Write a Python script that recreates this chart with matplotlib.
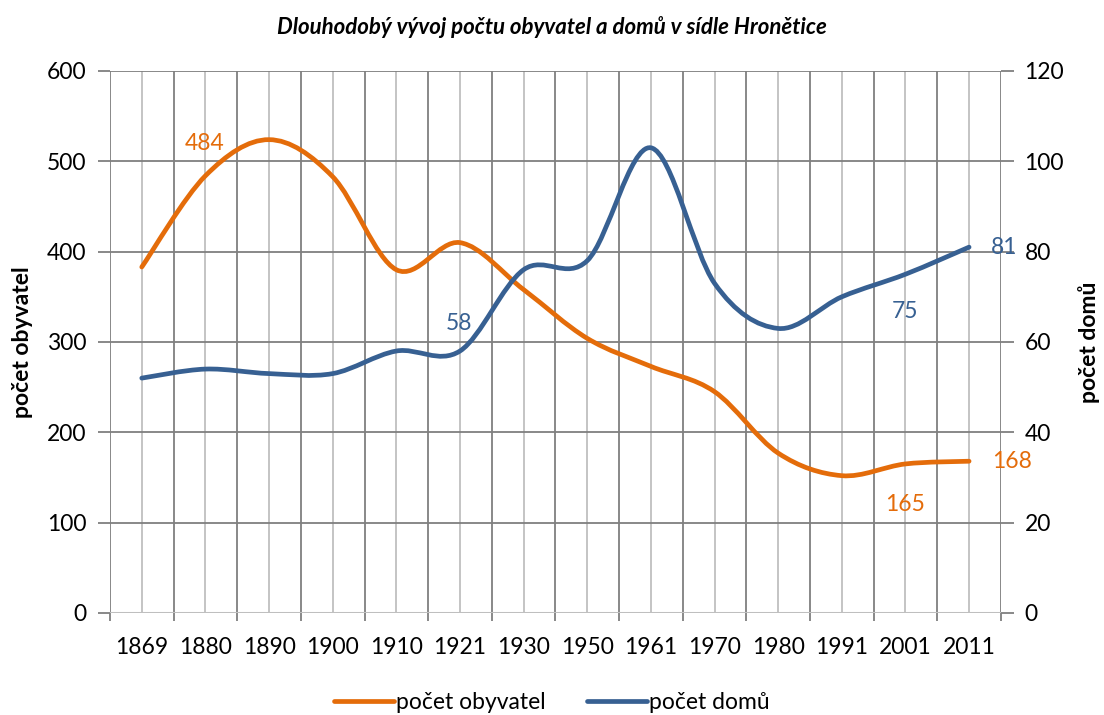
import numpy as np
import matplotlib.pyplot as plt
from matplotlib.path import Path
from matplotlib.patches import PathPatch
from matplotlib.lines import Line2D

plt.rcParams['font.family'] = ['Lato', 'DejaVu Sans']

years = ['1869', '1880', '1890', '1900', '1910', '1921', '1930',
         '1950', '1961', '1970', '1980', '1991', '2001', '2011']
obyvatel = [383, 484, 524, 483, 380, 410, 358, 304, 273, 245, 177, 152, 165, 168]
domu = [52, 54, 53, 53, 58, 58, 76, 78, 103, 73, 63, 70, 75, 81]

orange = '#E46C0A'
blue = '#376092'
dark_grid = '#7F7F7F'
light_grid = '#BFBFBF'
fs = 16.5


def smooth_path(x, y):
    # excel-like smoothed line: catmull-rom turned into cubic bezier segments
    x = np.asarray(x, float)
    y = np.asarray(y, float)
    pts = np.column_stack([x, y])
    verts = [pts[0]]
    codes = [Path.MOVETO]
    n = len(pts)
    for i in range(n - 1):
        p0 = pts[i - 1] if i > 0 else pts[i]
        p1 = pts[i]
        p2 = pts[i + 1]
        p3 = pts[i + 2] if i + 2 < n else pts[i + 1]
        c1 = p1 + (p2 - p0) / 6.0
        c2 = p2 - (p3 - p1) / 6.0
        verts += [c1, c2, p2]
        codes += [Path.CURVE4] * 3
    return Path(verts, codes)


fig = plt.figure(figsize=(11.04, 7.15), dpi=100)
ax = fig.add_axes([0.0996, 0.1427, 0.807, 0.758])
ax2 = ax.twinx()

n = len(years)
xs = np.arange(n)

ax.set_xlim(-0.5, n - 0.5)
ax.set_ylim(0, 600)
ax2.set_ylim(0, 120)

# grid: dark lines at category boundaries, light lines at category centers
for b in np.arange(-0.5, n, 1.0):
    ax.axvline(b, color=dark_grid, lw=1.3, zorder=1)
for c in xs:
    ax.axvline(c, color=light_grid, lw=1.3, zorder=1)
for v in range(100, 601, 100):
    ax.axhline(v, color=dark_grid, lw=1.3, zorder=1)
ax.axhline(0, color=light_grid, lw=2.2, zorder=2)

for s in ax.spines.values():
    s.set_visible(False)
for s in ax2.spines.values():
    s.set_visible(False)

ax.set_xticks(xs)
ax.set_xticklabels(years)
ax.set_xticks(np.arange(-0.5, n, 1.0), minor=True)
ax.tick_params(axis='x', which='major', length=0, pad=17, labelsize=fs)
ax.tick_params(axis='x', which='minor', length=6, width=1.3, color=dark_grid)

ax.set_yticks(range(0, 601, 100))
ax.tick_params(axis='y', length=9, width=1.3, color=dark_grid, pad=8, labelsize=fs)
ax2.set_yticks(range(0, 121, 20))
ax2.tick_params(axis='y', length=9, width=1.3, color=dark_grid, pad=8, labelsize=fs)

ax.patch.set_visible(False)
ax2.add_patch(PathPatch(smooth_path(xs, domu), fill=False, ec=blue, lw=3.4,
                        capstyle='round', zorder=3))
ax.add_patch(PathPatch(smooth_path(xs, obyvatel), fill=False, ec=orange, lw=3.4,
                       capstyle='round', zorder=3))
ax.set_zorder(ax2.get_zorder() - 1)
ax2.patch.set_visible(False)

# data labels
lab_kw = dict(fontsize=fs, ha='center', va='center')
ax.text(xs[1] - 0.02, obyvatel[1] + 36, str(obyvatel[1]), color=orange, **lab_kw)
ax.text(xs[12], obyvatel[12] - 45, str(obyvatel[12]), color=orange, **lab_kw)
ax.text(xs[13] + 0.67, obyvatel[13], str(obyvatel[13]), color=orange, **lab_kw)
ax2.text(xs[5] - 0.02, domu[5] + 6, str(domu[5]), color=blue, **lab_kw)
ax2.text(xs[12], domu[12] - 8.2, str(domu[12]), color=blue, **lab_kw)
ax2.text(xs[13] + 0.55, domu[13], str(domu[13]), color=blue, **lab_kw)

ax.set_ylabel('počet obyvatel', fontsize=fs, fontweight='bold', labelpad=10)
ax2.set_ylabel('počet domů', fontsize=fs, fontweight='bold', rotation=90, labelpad=10)

fig.text(0.5, 0.962, 'Dlouhodobý vývoj počtu obyvatel a domů v sídle Hronětice',
         ha='center', va='center', fontsize=16, fontweight='bold', fontstyle='italic')

handles = [Line2D([], [], color=orange, lw=3.4, solid_capstyle='round'),
           Line2D([], [], color=blue, lw=3.4, solid_capstyle='round')]
fig.legend(handles, ['počet obyvatel', 'počet domů'], loc='center',
           bbox_to_anchor=(0.5, 0.017), ncol=2, frameon=False, fontsize=fs,
           handlelength=2.6, handletextpad=0.1, columnspacing=1.8)

fig.savefig('out.png', dpi=100)
